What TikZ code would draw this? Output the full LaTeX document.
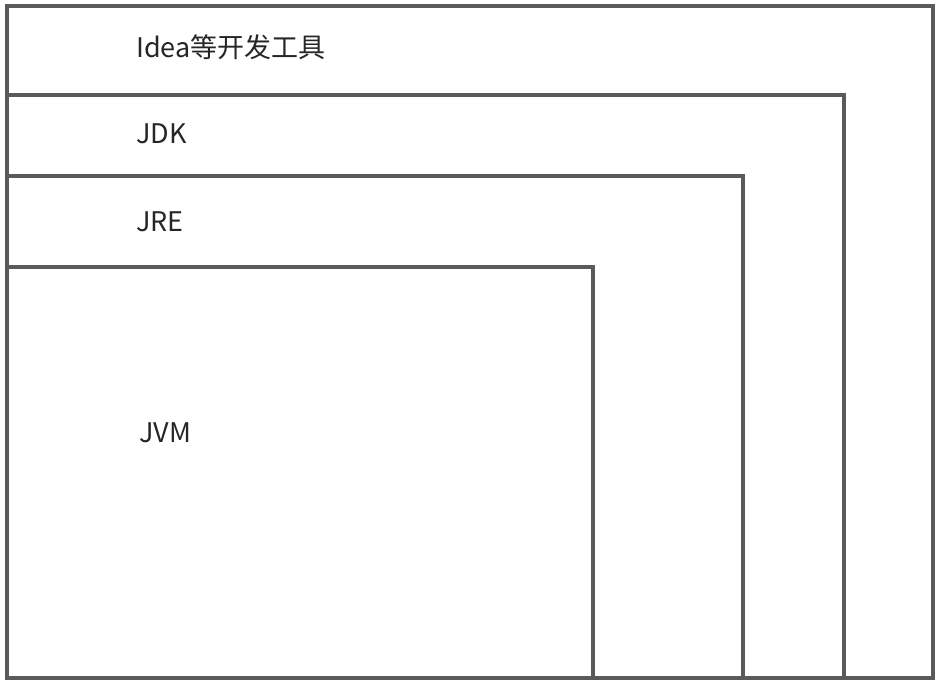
\documentclass[tikz,border=0pt]{standalone}
\usepackage{fontspec}
\newfontfamily\cjk{Noto Sans CJK SC}
\begin{document}
\begin{tikzpicture}[x=1pt,y=-1pt,
  boxline/.style={draw=boxgray,line width=3.2pt,line join=miter},
  lbl/.style={anchor=base west,inner sep=0pt,text=textgray,font=\cjk\fontsize{27}{31}\selectfont}]
\definecolor{boxgray}{HTML}{5A5A5A}
\definecolor{textgray}{HTML}{262626}
\useasboundingbox[fill=white] (0,0) rectangle (946,684);
\draw[boxline] (7,6) rectangle (933,678);
\draw[boxline] (7,678) |- (844,95) -- (844,678);
\draw[boxline] (7,678) |- (743,176) -- (743,678);
\draw[boxline] (7,678) |- (593,267) -- (593,678);
\node[lbl] (ide) at (136,58) {Idea等开发工具};
\node[lbl] (jdk) at (136,144) {JDK};
\node[lbl] (jre) at (136,232) {JRE};
\node[lbl] (jvm) at (139,443) {JVM};
\end{tikzpicture}
\end{document}
